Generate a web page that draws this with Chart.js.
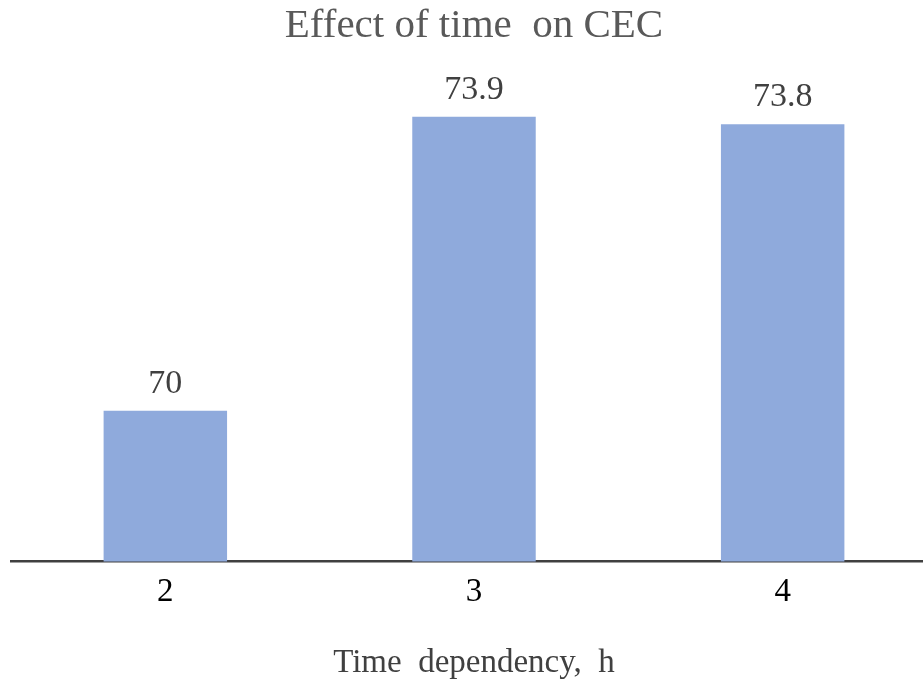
<!DOCTYPE html>
<html>
<head>
<meta charset="utf-8">
<script src="https://cdn.jsdelivr.net/npm/chart.js@4.4.1/dist/chart.umd.min.js"></script>
<style>
  html, body { margin: 0; padding: 0; background: #ffffff; overflow: hidden; }
  #wrap { position: relative; width: 948px; height: 680px; }
</style>
</head>
<body>
<div id="wrap"><canvas id="chart"></canvas></div>
<script>
// Reaction time (h) and the resulting cation exchange capacity
const categories = ['2', '3', '4'];
const cecValues = [70, 73.9, 73.8];
const chartTitle = 'Effect of time  on CEC';
const xAxisTitle = 'Time  dependency,  h';

const serif = '"Liberation Serif", "Times New Roman", serif';

// Writes each bar's value just above it
const valueLabels = {
  id: 'valueLabels',
  afterDatasetsDraw(chart) {
    const ctx = chart.ctx;
    const meta = chart.getDatasetMeta(0);
    ctx.save();
    ctx.font = '34px ' + serif;
    ctx.fillStyle = '#404040';
    ctx.textAlign = 'center';
    ctx.textBaseline = 'middle';
    meta.data.forEach((bar, i) => {
      ctx.fillText(String(cecValues[i]), bar.x, bar.y - 27);
    });
    ctx.restore();
  }
};

new Chart(document.getElementById('chart'), {
  type: 'bar',
  data: {
    labels: categories,
    datasets: [{
      data: cecValues,
      backgroundColor: '#8faadc',
      borderWidth: 0,
      barPercentage: 0.8,
      categoryPercentage: 0.5
    }]
  },
  options: {
    responsive: true,
    maintainAspectRatio: false,
    animation: false,
    layout: { padding: { left: 11, right: 11, top: 0, bottom: 0 } },
    plugins: {
      legend: { display: false },
      tooltip: { enabled: false },
      title: {
        display: true,
        text: chartTitle,
        color: '#595959',
        font: { family: serif, size: 41, weight: 'normal', lineHeight: 1.2 },
        padding: { top: 2, bottom: 58 }
      }
    },
    scales: {
      x: {
        grid: { display: false, drawTicks: false },
        border: { display: true, color: '#404040', width: 2.5 },
        ticks: {
          color: '#000000',
          padding: 11,
          maxRotation: 0,
          font: { family: serif, size: 33 }
        },
        title: {
          display: true,
          text: xAxisTitle,
          color: '#404040',
          font: { family: serif, size: 33, lineHeight: 1 },
          padding: { top: 24, bottom: 0 }
        }
      },
      y: {
        display: false,
        min: 68,
        max: 74
      }
    }
  },
  plugins: [valueLabels]
});
</script>
</body>
</html>
